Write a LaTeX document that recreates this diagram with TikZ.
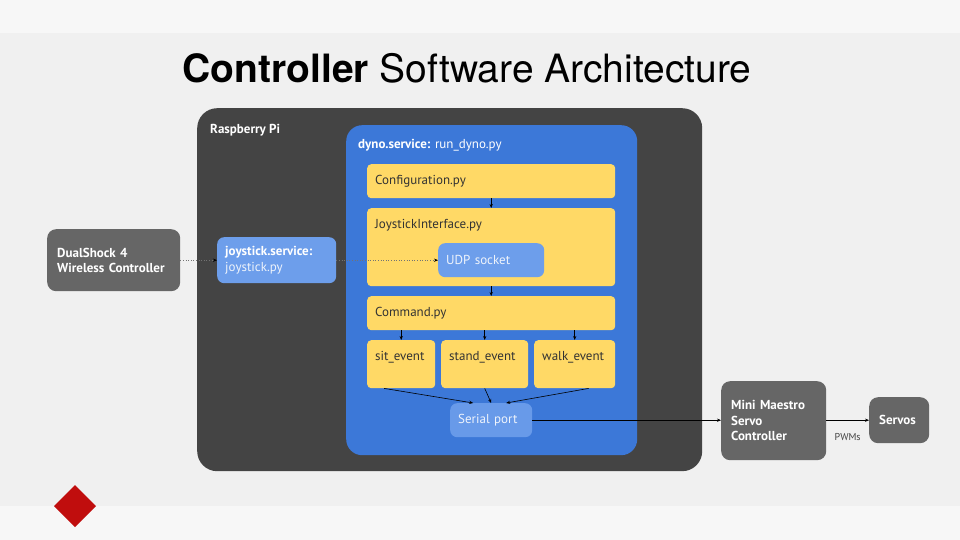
\documentclass[tikz,border=0pt]{standalone}
\usepackage{fontspec}
\setmainfont{PT Sans}
\newfontfamily\titlefont{TeX Gyre Heros}
\usetikzlibrary{positioning, arrows.meta}

\definecolor{bgband}{HTML}{F7F7F7}
\definecolor{bgmid}{HTML}{F0F0F0}
\definecolor{pigrey}{HTML}{444444}
\definecolor{boxgrey}{HTML}{666666}
\definecolor{dynoblue}{HTML}{3C78D8}
\definecolor{lightblue}{HTML}{6D9EEB}
\definecolor{pyyellow}{HTML}{FFD966}
\definecolor{pytext}{HTML}{333333}
\definecolor{softwhite}{HTML}{EEF3FB}
\definecolor{logored}{HTML}{C00D0D}

\begin{document}
\begin{tikzpicture}[x=1pt,y=-1pt,
  txt/.style={font=\fontsize{13}{15.5}\selectfont},
  box/.style={txt, rectangle, inner sep=0pt, anchor=north west},
  hw/.style={box, fill=boxgrey, rounded corners=9pt, text=white, align=left, font=\fontsize{13}{15.5}\selectfont\bfseries},
  svc/.style={box, fill=lightblue, rounded corners=7pt, text=softwhite, align=left},
  py/.style={box, fill=pyyellow, rounded corners=4pt, text=pytext, align=left},
  ev/.style={py, label={[txt, text=pytext, anchor=west, inner sep=0pt, xshift=8pt, yshift=-17pt]north west:#1}},
  arr/.style={-{Stealth[length=4pt,width=3.2pt]}, line width=0.6pt},
  dotarr/.style={arr, dotted, draw=black!55, -{Stealth[length=4pt,width=3.2pt, black]}}]
  \useasboundingbox (0,0) rectangle (960,540);
  % background bands
  \fill[bgband] (0,0) rectangle (960,540);
  \fill[bgmid] (0,33) rectangle (960,506);
  \fill[logored] (75,485) -- (96,506) -- (75,527) -- (54,506) -- cycle;

  \node[font=\titlefont\fontsize{39}{43}\selectfont] (title) at (467,68)
    {\textbf{Controller} Software Architecture};

  % raspberry pi and dyno service
  \node[box, fill=pigrey, rounded corners=20pt, minimum width=505pt, minimum height=363pt,
    label={[txt, text=white, font=\fontsize{13}{15.5}\selectfont\bfseries, anchor=west, inner sep=0pt, xshift=13pt, yshift=-22pt]north west:Raspberry Pi}]
    (rpi) at (197,108) {};
  \node[box, fill=dynoblue, rounded corners=16pt, minimum width=291pt, minimum height=330pt,
    label={[txt, text=white, anchor=west, inner sep=0pt, xshift=12pt, yshift=-20pt]north west:\textbf{dyno.service:} run\_dyno.py}]
    (dyno) at (346,125) {};

  \node[py, text width=232pt, inner xsep=8pt, minimum height=34pt] (conf) at (367,164) {Configuration.py};
  \node[py, minimum width=248pt, minimum height=78pt,
    label={[txt, text=pytext, anchor=west, inner sep=0pt, xshift=8pt, yshift=-17pt]north west:JoystickInterface.py}]
    (joyif) at (367,208) {};
  \node[svc, text width=90pt, inner xsep=8pt, minimum height=34pt] (udp) at (438,243) {UDP socket};
  \node[py, text width=232pt, inner xsep=8pt, minimum height=34pt] (cmd) at (367,296) {Command.py};
  \node[ev=sit\_event, minimum width=68pt, minimum height=48pt] (sit) at (367,340) {};
  \node[ev=stand\_event, minimum width=87pt, minimum height=48pt] (stand) at (441,340) {};
  \node[ev=walk\_event, minimum width=81pt, minimum height=48pt] (walk) at (534,340) {};
  \node[svc, fill=lightblue!90!dynoblue, text width=66pt, inner xsep=8pt, minimum height=34pt] (ser) at (450,403) {Serial port};

  % outside boxes
  \node[hw, text width=113pt, inner xsep=10pt, minimum height=62pt] (ds) at (47,229)
    {DualShock 4\\Wireless Controller};
  \node[svc, text width=103pt, inner xsep=8pt, minimum height=46pt] (js) at (217,237)
    {\textbf{\color{white}joystick.service:}\\joystick.py};
  \node[hw, text width=85pt, inner xsep=10pt, minimum height=79pt] (mm) at (721,381)
    {Mini Maestro\\Servo\\Controller};
  \node[hw, text width=40pt, inner xsep=10pt, minimum height=46pt] (servo) at (869,397) {Servos};

  % connections
  \draw[dotarr] (ds.east) -- (js.west);
  \draw[dotarr] (js.east) -- (udp.west);
  \draw[arr] (conf.south) -- (joyif.north);
  \draw[arr] (joyif.south) -- (cmd.north);
  \foreach \ev in {sit, stand, walk}
    \draw[arr] (\ev.north |- cmd.south) -- (\ev.north);
  \draw[arr] ([xshift=-17pt]sit.south) -- ([xshift=-18pt]ser.north);
  \draw[arr] (stand.south) -- ([xshift=0pt]ser.north);
  \draw[arr] ([xshift=14pt]walk.south) -- ([xshift=15pt]ser.north);
  \draw[arr] (ser.east) -- (ser.east -| mm.west);
  \draw[arr] (mm.east |- servo.west) -- node[below=10pt, font=\fontsize{10}{12}\selectfont, text=pigrey] {PWMs} (servo.west);
\end{tikzpicture}
\end{document}
